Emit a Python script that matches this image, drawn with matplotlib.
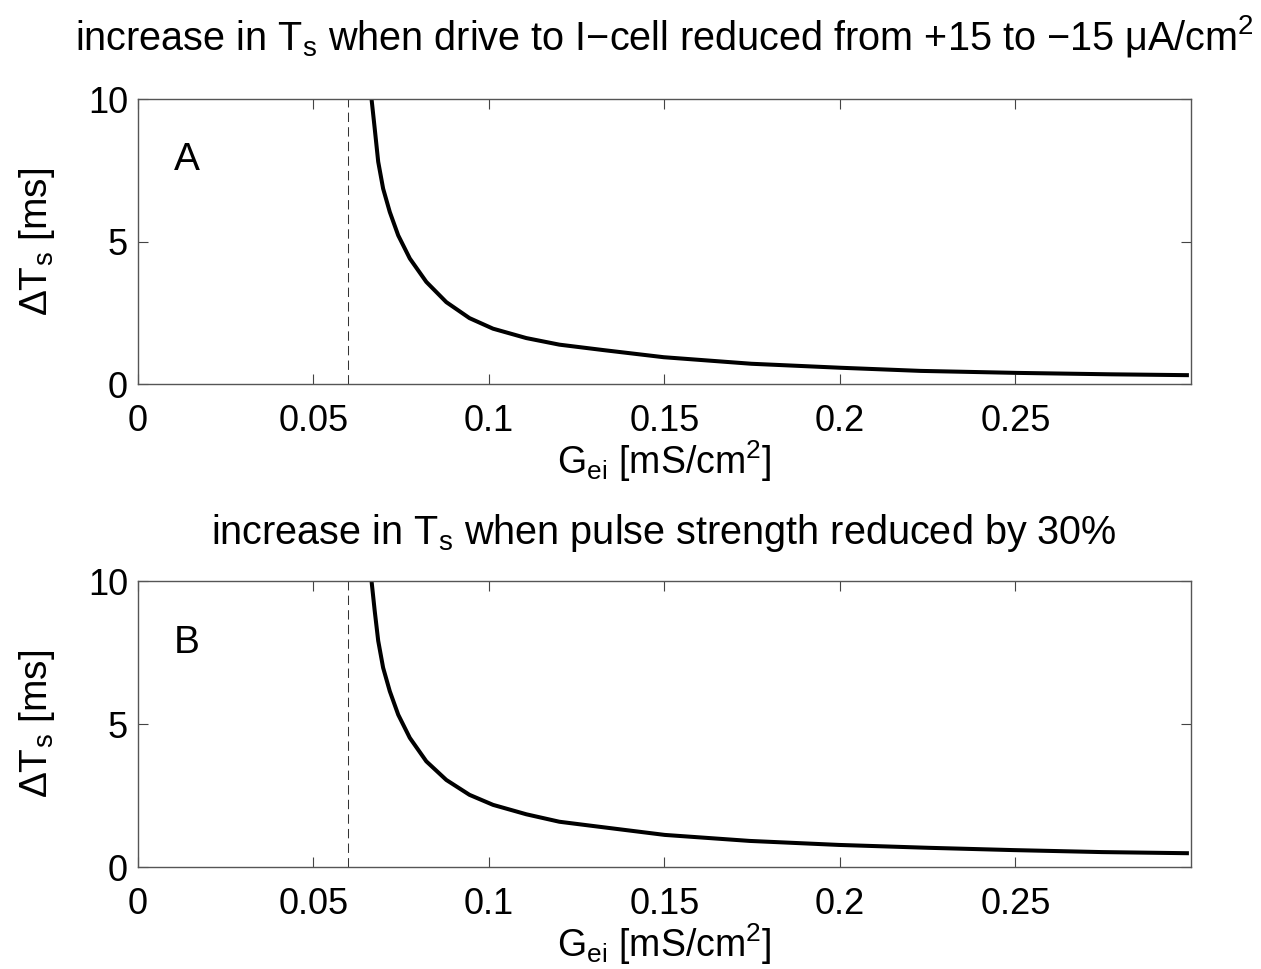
import matplotlib

matplotlib.use("Agg")
import matplotlib.pyplot as plt

plt.rcParams["font.family"] = ["Liberation Sans", "DejaVu Sans"]
plt.rcParams["mathtext.fontset"] = "custom"
plt.rcParams["mathtext.rm"] = "Liberation Sans"
plt.rcParams["mathtext.it"] = "Liberation Sans"

# values
g_a = [0.0666, 0.0675, 0.0685, 0.0699, 0.0718, 0.0742, 0.0775, 0.0822, 0.0879,
       0.0945, 0.1012, 0.1107, 0.1201, 0.1326, 0.1498, 0.1748, 0.2002, 0.2230,
       0.2505, 0.2773, 0.2994]
dts_a = [10.0, 8.97, 7.80, 6.86, 6.04, 5.22, 4.41, 3.59, 2.88,
         2.32, 1.95, 1.62, 1.39, 1.20, 0.95, 0.72, 0.58, 0.47,
         0.40, 0.35, 0.32]

g_b = [0.0666, 0.0675, 0.0685, 0.0699, 0.0718, 0.0742, 0.0775, 0.0822, 0.0879,
       0.0945, 0.1012, 0.1107, 0.1201, 0.1285, 0.1501, 0.1743, 0.1997, 0.2251,
       0.2492, 0.2746, 0.2994]
dts_b = [10.0, 8.96, 7.91, 6.97, 6.15, 5.33, 4.52, 3.70, 3.05,
         2.53, 2.18, 1.85, 1.59, 1.46, 1.13, 0.92, 0.78, 0.68,
         0.60, 0.53, 0.49]

g_crit = 0.0598
xticks = [0, 0.05, 0.1, 0.15, 0.2, 0.25]
xticklabels = ["0", "0.05", "0.1", "0.15", "0.2", "0.25"]
yticks = [0, 5, 10]

titles = [
    r"increase in T$_\mathregular{s}$ when drive to I−cell reduced from +15 to −15 μA/cm$^\mathregular{2}$",
    r"increase in T$_\mathregular{s}$ when pulse strength reduced by 30%",
]
title_pads = [36, 27]
letters = ["A", "B"]

fig = plt.figure(figsize=(12.61, 9.69), dpi=100)
ax1 = fig.add_axes([0.1092, 0.6034, 0.8353, 0.2944])
ax2 = fig.add_axes([0.1092, 0.1050, 0.8353, 0.2954])

for ax, g, dts, title, tpad, letter in zip(
    [ax1, ax2], [g_a, g_b], [dts_a, dts_b], titles, title_pads, letters
):
    ax.plot(g, dts, color="black", lw=2.9, solid_capstyle="butt",
            solid_joinstyle="round")
    ax.axvline(g_crit, color="#333333", lw=0.75, linestyle=(0, (9, 5)))
    ax.set_xlim(0, 0.3)
    ax.set_ylim(0, 10)
    ax.set_xticks(xticks)
    ax.set_xticklabels(xticklabels)
    ax.set_yticks(yticks)
    ax.tick_params(direction="in", length=7.5, width=0.8, colors="#444444",
                   labelcolor="black", labelsize=26, top=True, right=True)
    ax.tick_params(axis="x", pad=14)
    ax.tick_params(axis="y", pad=7)
    for sp in ax.spines.values():
        sp.set_color("#555555")
        sp.set_linewidth(1.0)
    ax.set_xlabel(r"G$_\mathregular{ei}$ [mS/cm$^\mathregular{2}$]", fontsize=27,
                  labelpad=0)
    ax.set_ylabel(r"$\mathregular{\Delta}$T$_\mathregular{s}$ [ms]", fontsize=28,
                  labelpad=22)
    ax.set_title(title, fontsize=28.5, pad=tpad)
    ax.text(0.034, 0.75, letter, transform=ax.transAxes, fontsize=28)

fig.savefig("out.png", dpi=100)
